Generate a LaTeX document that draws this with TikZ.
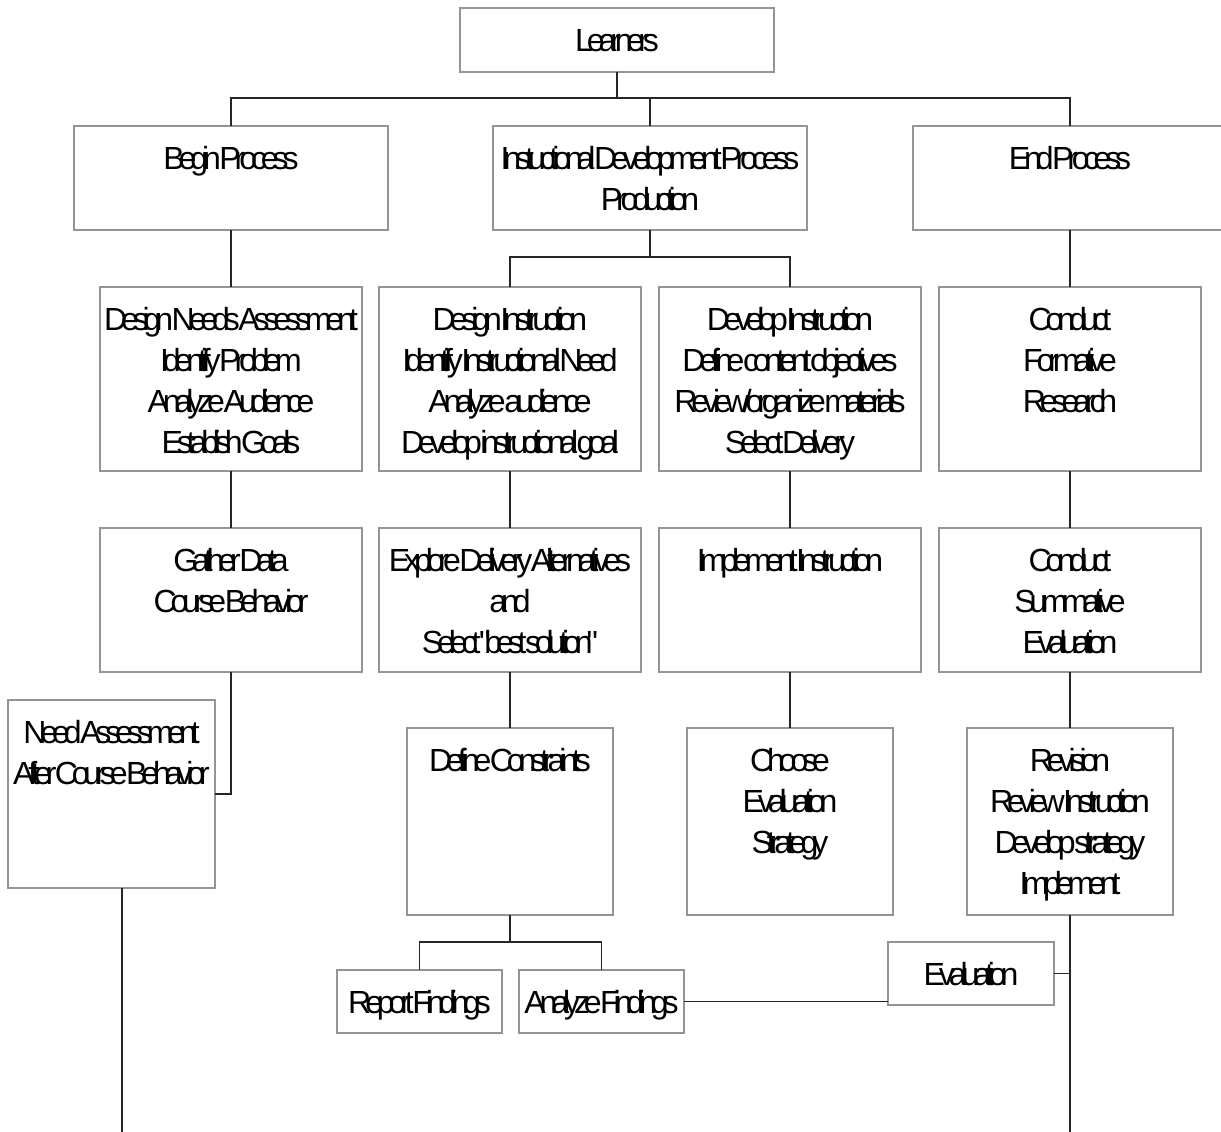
\documentclass[tikz,border=0pt]{standalone}
\usepackage{fontspec}
\setmainfont{Liberation Sans}[Ligatures=TeXOff,LetterSpace=-19]

\newcommand\boxfont{\fontsize{32}{41}\selectfont}
% tight word gap of the condensed lettering
\newcommand\ws{\kern-1.5pt\space}

% Box text: fixed-size area, lines centred, first baseline 43pt below the top
\newcommand\boxtext[3]{%
  \parbox[c][#2][t]{#1}{\centering\vspace*{15pt}%
    \makebox[\linewidth]{\begin{tabular}[t]{@{}c@{}}#3\end{tabular}}}}

\tikzset{
  box/.style={draw=black!42, line width=1.4pt, fill=white, inner sep=0pt, outer sep=0pt},
  link/.style={draw=black!85, line width=1.3pt},
  every node/.style={font=\boxfont}
}

\begin{document}
\begin{tikzpicture}[x=1pt,y=-1pt]
\useasboundingbox (0,0) rectangle (1221,1132);

% top level
\node[box] (learners) at (617,40)  {\boxtext{314pt}{64pt}{Learners}};
\node[box] (begin)    at (231,178) {\boxtext{314pt}{104pt}{Begin\ws Process}};
\node[box] (idp)      at (650,178) {\boxtext{314pt}{104pt}{Instuctional\ws Development\ws Process\\Production}};
\node[box] (endp)     at (1070,178){\boxtext{314pt}{104pt}{End\ws Process}};

% second row
\node[box] (dna) at (231,379)  {\boxtext{262pt}{184pt}{Design\ws Needs\ws Assessment\\Identify\ws Problem\\Analyze\ws Audience\\Establish\ws Goals}};
\node[box] (di)  at (510,379)  {\boxtext{262pt}{184pt}{Design\ws Instruction\\Identify\ws Instructional\ws Need\\Analyze\ws audience\\Develop\ws instructional\ws goal}};
\node[box] (dev) at (790,379)  {\boxtext{262pt}{184pt}{Develop\ws Instruction\\Define\ws content\ws objectives\\Review/organize\ws materials\\Select\ws Delivery}};
\node[box] (cfr) at (1070,379) {\boxtext{262pt}{184pt}{Conduct\\Formative\\Research}};

% third row
\node[box] (gd)   at (231,600)  {\boxtext{262pt}{144pt}{Gather\ws Data\\Course\ws Behavior}};
\node[box] (expl) at (510,600)  {\boxtext{262pt}{144pt}{Explore\ws Delivery\ws Alternatives\\and\\Select\ws "best\ws solution"}};
\node[box] (impl) at (790,600)  {\boxtext{262pt}{144pt}{Implement\ws Instruction}};
\node[box] (cse)  at (1070,600) {\boxtext{262pt}{144pt}{Conduct\\Summative\\Evaluation}};

% fourth row
\node[box] (need) at (111.5,794) {\boxtext{207pt}{188pt}{Need\ws Assessment\\After\ws Course\ws Behavior}};
\node[box] (dc)   at (510,821.5) {\boxtext{206pt}{187pt}{Define\ws Constraints}};
\node[box] (ces)  at (790,821.5) {\boxtext{206pt}{187pt}{Choose\\Evaluation\\Strategy}};
\node[box] (rev)  at (1070,821.5){\boxtext{206pt}{187pt}{Revision\\Review\ws Instruction\\Develop\ws strategy\\Implement}};

% findings and evaluation
\node[box] (rf) at (419.5,1001.5) {\boxtext{165pt}{63pt}{Report\ws Findings}};
\node[box] (af) at (601.5,1001.5) {\boxtext{165pt}{63pt}{Analyze\ws Findings}};
\node[box] (ev) at (971,973.5)    {\boxtext{166pt}{63pt}{Evaluation}};

% junction points of the buses and the open line ends
\coordinate (topbus) at (617,98);
\coordinate (midbus) at (650,257);
\coordinate (lowbus) at (510,942);
\coordinate (needend) at (122,1132);
\coordinate (revend) at (1070,1132);

% connectors
\draw[link] (learners.south) -- (topbus);
\draw[link] (begin.north) |- (topbus) -| (endp.north);
\draw[link] (idp.north) -- (idp.north |- topbus);

\draw[link] (idp.south) -- (midbus);
\draw[link] (di.north) |- (midbus) -| (dev.north);
\draw[link] (begin.south) -- (dna.north);
\draw[link] (endp.south) -- (cfr.north);

\draw[link] (dna.south) -- (gd.north);
\draw[link] (di.south) -- (expl.north);
\draw[link] (dev.south) -- (impl.north);
\draw[link] (cfr.south) -- (cse.north);

\draw[link] (gd.south) |- (need.east);
\draw[link] (expl.south) -- (dc.north);
\draw[link] (impl.south) -- (ces.north);
\draw[link] (cse.south) -- (rev.north);

\draw[link] (dc.south) -- (lowbus);
\draw[link] (rf.north) |- (lowbus) -| (af.north);

\draw[link] (needend |- need.south) -- (needend);
\draw[link] (rev.south) -- (revend);
\draw[link] (ev.east) -- (ev.east -| revend);
\draw[link] (af.east) -- (af.east -| ev.west);
\end{tikzpicture}
\end{document}
